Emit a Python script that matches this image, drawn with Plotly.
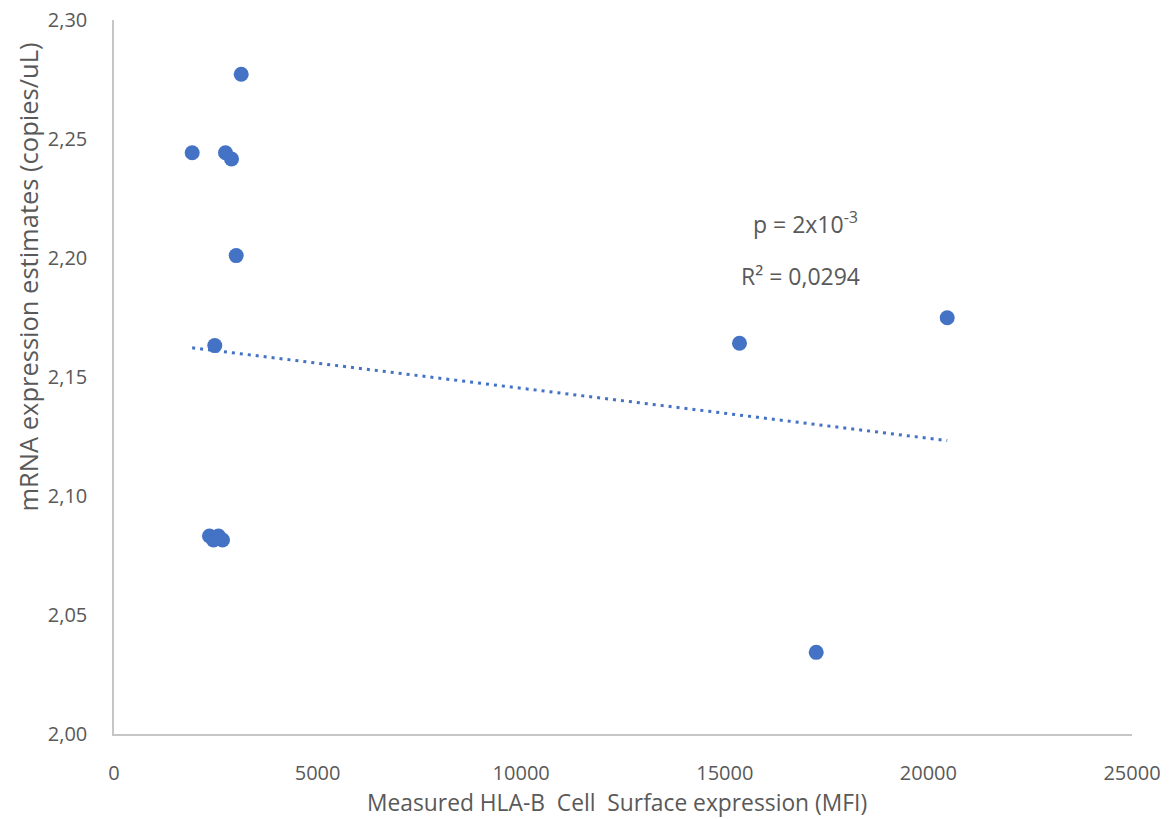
import numpy as np
import plotly.graph_objects as go

# Measured HLA-B cell surface expression (MFI) vs. mRNA expression estimates
mfi = [1920, 3124, 2738, 2886, 3001, 2475, 2345, 2444, 2566, 2665, 2500, 15361, 20462, 17245]
mrna = [2.2442, 2.2772, 2.2442, 2.2416, 2.2010, 2.1632, 2.0832, 2.0815, 2.0832, 2.0815,
        2.0822, 2.1642, 2.1749, 2.0343]

x_ticks = [0, 5000, 10000, 15000, 20000, 25000]
x_tick_text = ["0", "5000", "10000", "15000", "20000", "25000"]
y_ticks = [2.00, 2.05, 2.10, 2.15, 2.20, 2.25, 2.30]
y_tick_text = ["2,00", "2,05", "2,10", "2,15", "2,20", "2,25", "2,30"]

blue = "#4472C4"
txt = "#595959"
font = "Open Sans"

# Linear trendline fitted by least squares
slope, intercept = np.polyfit(mfi, mrna, 1)
xf = np.array([min(mfi), max(mfi)])
yf = slope * xf + intercept

fig = go.Figure()
fig.add_trace(go.Scatter(
    x=xf, y=yf, mode="lines",
    line=dict(color=blue, width=3, dash="3px,5px"),
    hoverinfo="skip", showlegend=False,
))
fig.add_trace(go.Scatter(
    x=mfi, y=mrna, mode="markers",
    marker=dict(color=blue, size=15, line=dict(width=0)),
    showlegend=False,
))

fig.update_layout(
    width=1173, height=819,
    margin=dict(l=114, r=41, t=20, b=85),
    paper_bgcolor="white", plot_bgcolor="white",
    font=dict(family=font, size=20, color=txt),
    xaxis=dict(
        range=[0, 25000], tickvals=x_ticks, ticktext=x_tick_text,
        showgrid=False, zeroline=False, showline=True, linecolor="#c6c6c6", linewidth=1.5,
        ticks="", ticklabelstandoff=20, automargin=False,
        tickfont=dict(size=20, color=txt),
    ),
    yaxis=dict(
        range=[2.0, 2.3], tickvals=y_ticks, ticktext=y_tick_text,
        showgrid=False, zeroline=False, showline=True, linecolor="#c6c6c6", linewidth=1.5,
        ticks="", ticklabelstandoff=21, automargin=False,
        tickfont=dict(size=20, color=txt),
    ),
    annotations=[
        dict(text="mRNA expression estimates (copies/uL)", textangle=-90,
             xref="paper", yref="paper", x=-0.084, y=0.64, xanchor="center", yanchor="middle",
             showarrow=False, font=dict(size=25.5, color=txt)),
        dict(text="Measured HLA-B\u00a0 Cell\u00a0 Surface expression (MFI)",
             xref="paper", yref="paper", x=0.4945, y=-0.096, xanchor="center", yanchor="middle",
             showarrow=False, font=dict(size=22.8, color=txt)),
        dict(text="p = 2x10<sup>-3</sup>", x=16980, y=2.2145, xanchor="center", yanchor="middle",
             showarrow=False, font=dict(size=23, color=txt)),
        dict(text="R² = 0,0294", x=16860, y=2.1925, xanchor="center", yanchor="middle",
             showarrow=False, font=dict(size=23, color=txt)),
    ],
)

fig.write_html("out.html")
